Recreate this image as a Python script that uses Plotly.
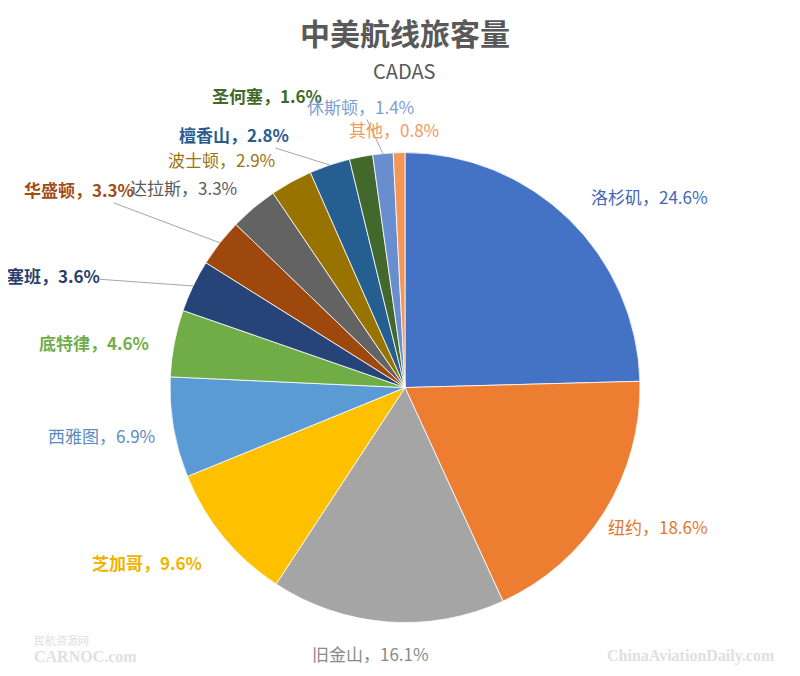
import math
import plotly.graph_objects as go

# 数据：中美航线旅客量占比（%）
cities = ["洛杉矶", "纽约", "旧金山", "芝加哥", "西雅图", "底特律", "塞班",
          "华盛顿", "达拉斯", "波士顿", "檀香山", "圣何塞", "休斯顿", "其他"]
shares = [24.6, 18.6, 16.1, 9.6, 6.9, 4.6, 3.6, 3.3, 3.3, 2.9, 2.8, 1.6, 1.4, 0.8]

# 🎨 样式（颜色、字重、标签偏移、引导线）
slice_colors = ["#4472C4", "#ED7D31", "#A5A5A5", "#FFC000", "#5B9BD5", "#70AD47",
                "#264478", "#9E480E", "#636363", "#997300", "#255E91", "#43682B",
                "#698ED0", "#F1975A"]
label_colors = ["#4169B8", "#E0782E", "#8A8A8A", "#F0B400", "#5A8CC0", "#72AD4C",
                "#2B3F6E", "#A04D16", "#5A5A5A", "#9A7410", "#2A5C8E", "#43682B",
                "#7C9DD6", "#F09A60"]
label_bold = [False, False, False, True, False, True, True,
              True, False, False, True, True, False, False]
label_offsets = [(81, -23), (54, 15), (-17, 32), (-77, 26), (-72, 8), (-80, -1),
                 (-140, -10), (-141, -53), (-70, -20), (-70, -22), (-96, -30),
                 (-94, -61), (-22, -47), (-5, -23)]
has_leader = [False, False, False, False, False, False, True,
              True, False, False, True, False, True, False]

W, H = 800, 676
dom_x = [0.2025, 0.79]
dom_y = [0.090, 0.787]

fig = go.Figure(go.Pie(
    labels=cities,
    values=shares,
    sort=False,
    direction="clockwise",
    rotation=0,
    marker=dict(colors=slice_colors, line=dict(color="white", width=0.8)),
    textinfo="none",
    hoverinfo="label+value",
    domain=dict(x=dom_x, y=dom_y),
    showlegend=False,
))

# 📍 数据标签：按扇区中点角度放在饼图边缘外
cx = (dom_x[0] + dom_x[1]) / 2
cy = (dom_y[0] + dom_y[1]) / 2
radius = min((dom_x[1] - dom_x[0]) * W, (dom_y[1] - dom_y[0]) * H) / 2
total = sum(shares)
annots = []
cum = 0
for i, (city, v) in enumerate(zip(cities, shares)):
    mid = (cum + v / 2) / total * 2 * math.pi
    cum += v
    px = cx + radius * math.sin(mid) / W
    py = cy + radius * math.cos(mid) / H
    txt = f"{city}，{v}%"
    if label_bold[i]:
        txt = f"<b>{txt}</b>"
    annots.append(dict(
        x=px, y=py, xref="paper", yref="paper",
        ax=label_offsets[i][0], ay=label_offsets[i][1],
        text=txt, showarrow=True, arrowhead=0, arrowwidth=1, borderpad=0,
        arrowcolor="#A6A6A6" if has_leader[i] else "rgba(0,0,0,0)",
        font=dict(size=17, color=label_colors[i]),
    ))

# 标题与水印
annots += [
    dict(text="<b>中美航线旅客量</b>", x=0.496, y=1 - 24 / H, xref="paper", yref="paper",
         yanchor="middle", showarrow=False, font=dict(size=30, color="#595959")),
    dict(text="CADAS", x=0.496, y=1 - 62 / H, xref="paper", yref="paper",
         yanchor="middle", showarrow=False, font=dict(size=20, color="#595959")),
    dict(text="民航资源网", x=0.03, y=1 - 632 / H, xref="paper", yref="paper",
         xanchor="left", yanchor="middle", showarrow=False,
         font=dict(size=11, color="#E0E0E0")),
    dict(text="<b>CARNOC.com</b>", x=0.03, y=1 - 648 / H, xref="paper", yref="paper",
         xanchor="left", yanchor="middle", showarrow=False,
         font=dict(size=16, color="#E0E0E0", family="Liberation Sans Narrow")),
    dict(text="<b>ChinaAviationDaily.com</b>", x=0.746, y=1 - 648 / H, xref="paper", yref="paper",
         xanchor="left", yanchor="middle", showarrow=False,
         font=dict(size=16, color="#E0E0E0", family="Liberation Sans Narrow")),
]

fig.update_layout(
    width=W, height=H,
    margin=dict(l=0, r=0, t=0, b=0),
    paper_bgcolor="white",
    font=dict(family="Noto Sans CJK SC"),
    annotations=annots,
)

fig.write_html("out.html")
